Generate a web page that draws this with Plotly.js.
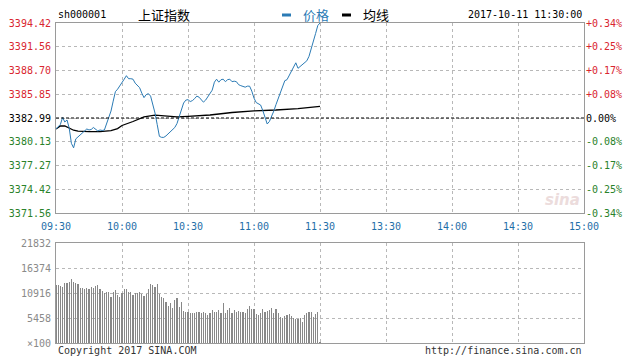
<!DOCTYPE html>
<html>
<head>
<meta charset="utf-8">
<script src="https://cdn.plot.ly/plotly-3.0.1.min.js"></script>
<style>html,body{margin:0;padding:0;background:#fff;}#chart{width:631px;height:359px;}</style>
</head>
<body>
<div id="chart"></div>
<script>
// ---- data ----
const symbol = "sh000001";
const indexName = "上证指数";
const timestamp = "2017-10-11 11:30:00";
const prevClose = 3382.99;

const tickMinutes = [0, 30, 60, 90, 120, 150, 180, 210, 240];
const tickLabels = ["09:30", "10:00", "10:30", "11:00", "11:30", "13:30", "14:00", "14:30", "15:00"];

const priceTicks = [3371.56, 3374.42, 3377.27, 3380.13, 3382.99, 3385.85, 3388.70, 3391.56, 3394.42];
const pctLabels = ["-0.34%", "-0.25%", "-0.17%", "-0.08%", "0.00%", "+0.08%", "+0.17%", "+0.25%", "+0.34%"];

const volTicks = [0, 5458, 10916, 16374, 21832];
const volLabels = ["×100", "5458", "10916", "16374", "21832"];

// minute-by-minute price, 09:30 .. 11:30
const price = [
  3381.67, 3381.90, 3382.22, 3383.06, 3382.51, 3382.75, 3381.79, 3379.94, 3379.40, 3380.48,
  3380.72, 3381.02, 3381.31, 3381.55, 3381.67, 3381.55, 3381.61, 3381.85, 3381.67, 3381.43,
  3381.55, 3381.49, 3381.55, 3382.27, 3383.05, 3383.83, 3385.02, 3386.16, 3386.46, 3386.82,
  3387.18, 3387.66, 3388.08, 3387.72, 3387.72, 3387.66, 3387.18, 3386.88, 3386.64, 3385.98,
  3385.44, 3385.80, 3385.92, 3385.62, 3384.73, 3383.59, 3382.21, 3380.78, 3380.66, 3380.66,
  3380.84, 3381.08, 3381.31, 3381.55, 3381.85, 3382.33, 3383.11, 3383.95, 3384.79, 3385.14,
  3385.20, 3384.97, 3385.08, 3385.32, 3385.62, 3385.50, 3385.26, 3384.90, 3385.14, 3385.56,
  3385.92, 3386.34, 3387.30, 3387.66, 3387.30, 3387.60, 3387.66, 3387.36, 3387.60, 3387.66,
  3387.36, 3387.42, 3387.36, 3387.00, 3386.88, 3386.76, 3386.70, 3386.82, 3386.82, 3386.22,
  3385.38, 3384.85, 3384.73, 3384.55, 3383.89, 3383.11, 3382.27, 3382.57, 3383.17, 3383.83,
  3384.61, 3385.38, 3386.16, 3386.94, 3387.48, 3387.60, 3388.08, 3388.50, 3389.15, 3389.63,
  3388.97, 3389.21, 3389.39, 3389.57, 3389.87, 3390.41, 3391.43, 3392.21, 3393.16, 3394.12,
  3394.42
];

// average price line, sampled at these minutes
const avgMinutes = [0, 2, 4, 5, 8, 10, 12, 15, 20, 25, 28, 30, 35, 40, 45, 50, 55, 60, 70, 80, 90, 100, 110, 120];
const avgPrice = [3381.67, 3382.03, 3382.03, 3381.88, 3381.52, 3381.40, 3381.35, 3381.35, 3381.35, 3381.47,
  3381.71, 3382.09, 3382.57, 3383.13, 3383.33, 3383.19, 3383.13, 3383.19, 3383.35, 3383.65, 3383.85, 3383.95,
  3384.12, 3384.39];

// minute volume (x100)
const volume = [
  12663, 12663, 12444, 12298, 13026, 13172, 13390, 13900, 13390, 13026,
  12881, 11935, 11935, 11716, 11935, 11716, 12153, 11935, 12444, 12663,
  11716, 11353, 10843, 11207, 11207, 10116, 11207, 11571, 10479, 10116,
  10843, 11716, 11789, 11207, 11207, 10479, 10843, 10989, 11207, 10698,
  10261, 10698, 11716, 12881, 12663, 12153, 12881, 10698, 10116, 9752,
  9024, 8078, 8806, 7569, 9388, 9897, 7787, 9024, 7059, 6841,
  6841, 6477, 6622, 6477, 6841, 6841, 6622, 6841, 6477, 6113,
  6622, 7205, 6841, 6841, 7205, 6477, 8660, 6477, 7205, 7569,
  6622, 7205, 6841, 6986, 6841, 6841, 6622, 7350, 8078, 7423,
  7350, 6331, 6113, 6477, 7496, 6841, 6986, 7205, 7569, 6477,
  7350, 6477, 5604, 5385, 5895, 6113, 6331, 5895, 5385, 5167,
  5167, 5390, 4650, 6113, 6477, 6833, 6833, 5750, 6331, 6841,
  284
];

// ---- drawing ----
const minutes = price.map((_, i) => i);
const RED = "#d9262f", GREEN = "#2a822a", BLUE = "#1f6fa8", GRAY = "#8a8a8a";
const mono = "DejaVu Sans Mono, monospace";
const cjk = "Noto Sans CJK SC, sans-serif";

function colorFor(v) {
  if (Math.abs(v - prevClose) < 0.005) return "#000";
  return v > prevClose ? RED : GREEN;
}
const leftText = priceTicks.map(v => `<span style="color:${colorFor(v)}">${v.toFixed(2)}</span>`);
const rightText = pctLabels.map((t, i) => `<span style="color:${colorFor(priceTicks[i])}">${t}</span>`);

const traces = [
  { x: avgMinutes, y: avgPrice, type: "scatter", mode: "lines", line: { color: "#000", width: 1.3 }, xaxis: "x", yaxis: "y", hoverinfo: "none" },
  { x: minutes, y: price, type: "scatter", mode: "lines", line: { color: "#2b7bb5", width: 1 }, xaxis: "x", yaxis: "y", hoverinfo: "none" },
  { x: [0], y: [prevClose], type: "scatter", mode: "markers", marker: { opacity: 0 }, xaxis: "x", yaxis: "y2", hoverinfo: "none" },
  { x: minutes, y: volume, type: "bar", width: 0.55, marker: { color: "#888888", line: { width: 0 } }, xaxis: "x2", yaxis: "y3", hoverinfo: "none" }
];

const gridCommon = { showgrid: true, gridcolor: "#b8b8b8", griddash: "dot", gridwidth: 1, zeroline: false,
  showline: true, linecolor: "#9a9a9a", linewidth: 1, mirror: true, ticks: "" };

const layout = {
  width: 631, height: 359,
  margin: { l: 56, r: 47, t: 23, b: 16, pad: 0 },
  paper_bgcolor: "#fff", plot_bgcolor: "#fff",
  showlegend: false,
  bargap: 0,
  xaxis: Object.assign({}, gridCommon, {
    domain: [0, 1], anchor: "y", range: [0, 240], tickvals: tickMinutes, ticktext: tickLabels,
    ticklabelstandoff: 4,
    tickfont: { family: mono, size: 10, color: BLUE }
  }),
  xaxis2: Object.assign({}, gridCommon, {
    domain: [0, 1], anchor: "y3", range: [0, 240], tickvals: tickMinutes, showticklabels: false, matches: "x"
  }),
  yaxis: Object.assign({}, gridCommon, {
    domain: [0.40625, 1], anchor: "x", range: [priceTicks[0], priceTicks[priceTicks.length - 1]],
    tickvals: priceTicks, ticktext: leftText, ticklabelstandoff: 2,
    tickfont: { family: mono, size: 10, color: "#000" }
  }),
  yaxis2: {
    overlaying: "y", side: "right", anchor: "x", range: [priceTicks[0], priceTicks[priceTicks.length - 1]],
    tickvals: priceTicks, ticktext: rightText, showgrid: false, zeroline: false, showline: false, ticks: "",
    ticklabelstandoff: 1,
    tickfont: { family: mono, size: 10, color: "#000" }
  },
  yaxis3: Object.assign({}, gridCommon, {
    domain: [0, 0.3125], anchor: "x2", range: [0, volTicks[volTicks.length - 1]],
    tickvals: volTicks, ticktext: volLabels, ticklabelstandoff: 2,
    tickfont: { family: mono, size: 10, color: GRAY }
  }),
  shapes: [
    { type: "line", xref: "x", yref: "y", x0: 0, x1: 240, y0: prevClose, y1: prevClose,
      line: { color: "#000", width: 1, dash: "3px,2px" } },
    { type: "rect", xref: "paper", yref: "paper", x0: (282 - 56) / 528, x1: (291 - 56) / 528,
      y0: (343 - 16.5) / 320, y1: (343 - 13.5) / 320, fillcolor: "#2b7bb5", line: { width: 0 } },
    { type: "rect", xref: "paper", yref: "paper", x0: (342 - 56) / 528, x1: (351 - 56) / 528,
      y0: (343 - 16.5) / 320, y1: (343 - 13.5) / 320, fillcolor: "#000", line: { width: 0 } }
  ],
  annotations: [
    { text: symbol, xref: "paper", yref: "paper", x: 0, y: (343 - 14) / 320, xanchor: "left", yanchor: "middle",
      showarrow: false, font: { family: mono, size: 10, color: "#000" } },
    { text: indexName, xref: "paper", yref: "paper", x: (136 - 56) / 528, y: (343 - 14) / 320, xanchor: "left", yanchor: "middle",
      showarrow: false, font: { family: cjk, size: 13, color: "#000" } },
    { text: "价格", xref: "paper", yref: "paper", x: (301 - 56) / 528, y: (343 - 14) / 320, xanchor: "left", yanchor: "middle",
      showarrow: false, font: { family: cjk, size: 13, color: "#2b7bb5" } },
    { text: "均线", xref: "paper", yref: "paper", x: (361 - 56) / 528, y: (343 - 14) / 320, xanchor: "left", yanchor: "middle",
      showarrow: false, font: { family: cjk, size: 13, color: "#000" } },
    { text: timestamp, xref: "paper", yref: "paper", x: (584 - 56) / 528, y: (343 - 14) / 320, xanchor: "right", yanchor: "middle",
      showarrow: false, font: { family: mono, size: 10, color: "#000" } },
    { text: "Copyright 2017 SINA.COM", xref: "paper", yref: "paper", x: 0, y: (343 - 350) / 320, xanchor: "left", yanchor: "middle",
      showarrow: false, font: { family: mono, size: 10, color: "#333" } },
    { text: "http://finance.sina.com.cn", xref: "paper", yref: "paper", x: 1, y: (343 - 350) / 320, xanchor: "right", yanchor: "middle",
      showarrow: false, font: { family: mono, size: 10, color: "#333" } },
    { text: "<b><i>sina</i></b>", xref: "paper", yref: "paper", x: (582 - 56) / 528, y: (343 - 200) / 320, xanchor: "right", yanchor: "middle",
      showarrow: false, font: { family: "DejaVu Sans, sans-serif", size: 15, color: "#ecdcdc" } }
  ]
};

Plotly.newPlot("chart", traces, layout, { staticPlot: true, displayModeBar: false });
</script>
</body>
</html>
